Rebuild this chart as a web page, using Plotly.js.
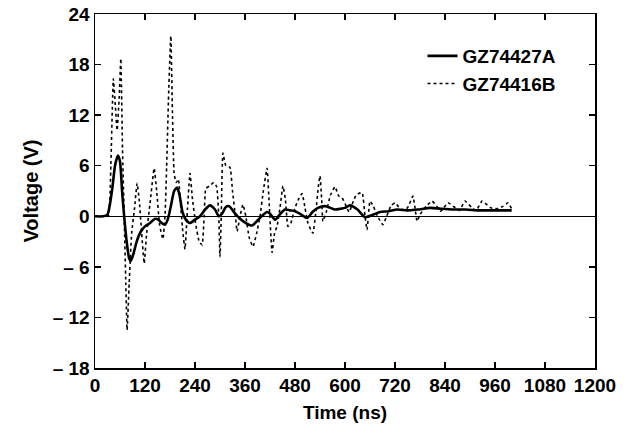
<!DOCTYPE html>
<html>
<head>
<meta charset="utf-8">
<script src="https://cdn.plot.ly/plotly-3.0.1.min.js"></script>
<style>html,body{margin:0;padding:0;background:#fff;}#chart{width:628px;height:436px;}</style>
</head>
<body>
<div id="chart"></div>
<script>
// Series A: GZ74427A (solid)
const timeA = [0,20,30,36,42,48,55,60,65,70,76,82,86,92,100,110,120,132,144,152,160,168,175,182,190,197,203,210,218,228,240,252,264,276,288,297,305,314,322,335,348,362,377,390,400,413,420,432,445,456,468,480,495,509,522,535,552,565,576,590,600,612,630,648,668,684,705,725,749,775,805,830,860,890,920,950,980,1000];
const voltA = [0,0,0.2,1.5,3.5,6,7.2,6.5,3,0,-3,-5,-5.3,-4.5,-3,-1.8,-1.2,-0.8,-0.3,-0.4,-0.8,-1,-0.3,1.2,3,3.4,2.5,0.5,-0.4,-0.8,-0.4,0,0.8,1.3,0.8,0,0.3,1.1,1.2,0.4,-0.3,-0.8,-1.1,-0.5,0,0.5,0.3,-0.4,0.3,0.8,0.7,0.6,0.2,-0.2,0.5,1,1.2,1,0.8,0.9,1,1.3,0.8,-0.1,0.2,0.5,0.6,0.8,0.7,0.8,1,0.9,0.8,0.8,0.7,0.7,0.7,0.7];

// Series B: GZ74416B (dotted)
const timeB = [0,20,32,38,44,49,53,58,62,66,70,74,77,82,88,95,101,106,112,118,124,132,142,148,155,163,168,172,177,182,186,190,195,200,206,211,216,222,228,234,242,250,257,262,266,275,285,292,297,300,303,307,314,324,330,337,341,348,355,362,370,379,388,396,404,413,418,425,431,437,444,451,457,463,470,480,490,497,504,511,518,523,530,536,540,544,547,555,565,576,585,593,600,610,620,628,641,648,653,660,668,678,691,700,710,720,735,750,763,768,773,780,795,809,820,830,847,865,875,888,905,915,929,950,965,980,991,1000];
const voltB = [0,0,0,6,16.3,13,10.2,14,18.7,8,0,-8,-13.5,-8,-2,1,3.9,2,-2,-5.6,-2,1.5,5.7,3,-1,-2.7,0,6,15,21.4,12,5,4,4.4,1,-2,-3.9,1,5.1,2,-1,-3,-3.4,0,3.3,3.6,4,3.5,0,-4.8,0,7.5,6,5.8,3,0,-1.8,0,1.4,0,-2.5,-3.6,-2,0,3,5.7,1.5,-4.3,-2,-1.2,1,3.6,2,-1.2,-0.8,1,2.2,2.7,1,-0.8,-1.6,-2,0.5,3.5,4.8,2,-0.6,0.5,2.5,3.5,2.4,2.2,1.5,0.5,1.8,2.6,2.8,0,-1.6,1.8,1.2,0,-1,0,1.2,1.6,0.8,1,2.4,1,-0.6,0.2,1.2,1.8,1.2,0.6,1.6,1,0.7,1.8,1,0.7,1.8,1,0.9,1.2,1.6,0.9];

const seriesNames = ["GZ74427A", "GZ74416B"];
const yTickVals = [-18,-12,-6,0,6,12,18,24];
const yTickText = ["\u2013 18","\u2013 12","\u2013 6","0","6","12","18","24"];
const xTickVals = [0,120,240,360,480,600,720,840,960,1080,1200];

const FONT = "Liberation Sans, Arial, Helvetica, sans-serif";

const traces = [
  {x: timeA, y: voltA, name: seriesNames[0], type: "scatter", mode: "lines",
   line: {color: "#000", width: 2.6, shape: "spline", smoothing: 0.6}, legendgroup: "a"},
  {x: timeB, y: voltB, name: seriesNames[1], type: "scatter", mode: "lines",
   line: {color: "#000", width: 1.6, dash: "dot", shape: "spline", smoothing: 0.4}, legendgroup: "b"}
];

const layout = {
  width: 628, height: 436,
  margin: {l: 95, r: 33, t: 14, b: 68},
  paper_bgcolor: "#fff", plot_bgcolor: "#fff",
  font: {family: FONT, color: "#000", size: 19, weight: "bold"},
  showlegend: true,
  legend: {x: 0.655, y: 0.935, xanchor: "left", yanchor: "top", bgcolor: "rgba(0,0,0,0)",
           font: {family: FONT, size: 19, weight: "bold", color: "#000"},
           traceorder: "grouped", tracegroupgap: 0},
  xaxis: {range: [0, 1200], tickvals: xTickVals, showgrid: false, zeroline: false,
          showline: true, linecolor: "#000", linewidth: 1.5, mirror: "ticks",
          ticks: "inside", ticklen: 6, tickcolor: "#000", tickwidth: 1.5,
          tickfont: {family: FONT, size: 19, weight: "bold"},
          title: {text: "Time (ns)", font: {family: FONT, size: 19, weight: "bold"}, standoff: 10}},
  yaxis: {range: [-18, 24], tickvals: yTickVals, ticktext: yTickText, showgrid: false,
          zeroline: true, zerolinecolor: "#000", zerolinewidth: 1,
          showline: true, linecolor: "#000", linewidth: 1.5, mirror: "ticks",
          ticks: "inside", ticklen: 6, tickcolor: "#000", tickwidth: 1.5,
          tickfont: {family: FONT, size: 19, weight: "bold"},
          title: {text: "Voltage (V)", font: {family: FONT, size: 20, weight: "bold"}, standoff: 8}}
};

Plotly.newPlot("chart", traces, layout, {staticPlot: true, displayModeBar: false});
</script>
</body>
</html>
